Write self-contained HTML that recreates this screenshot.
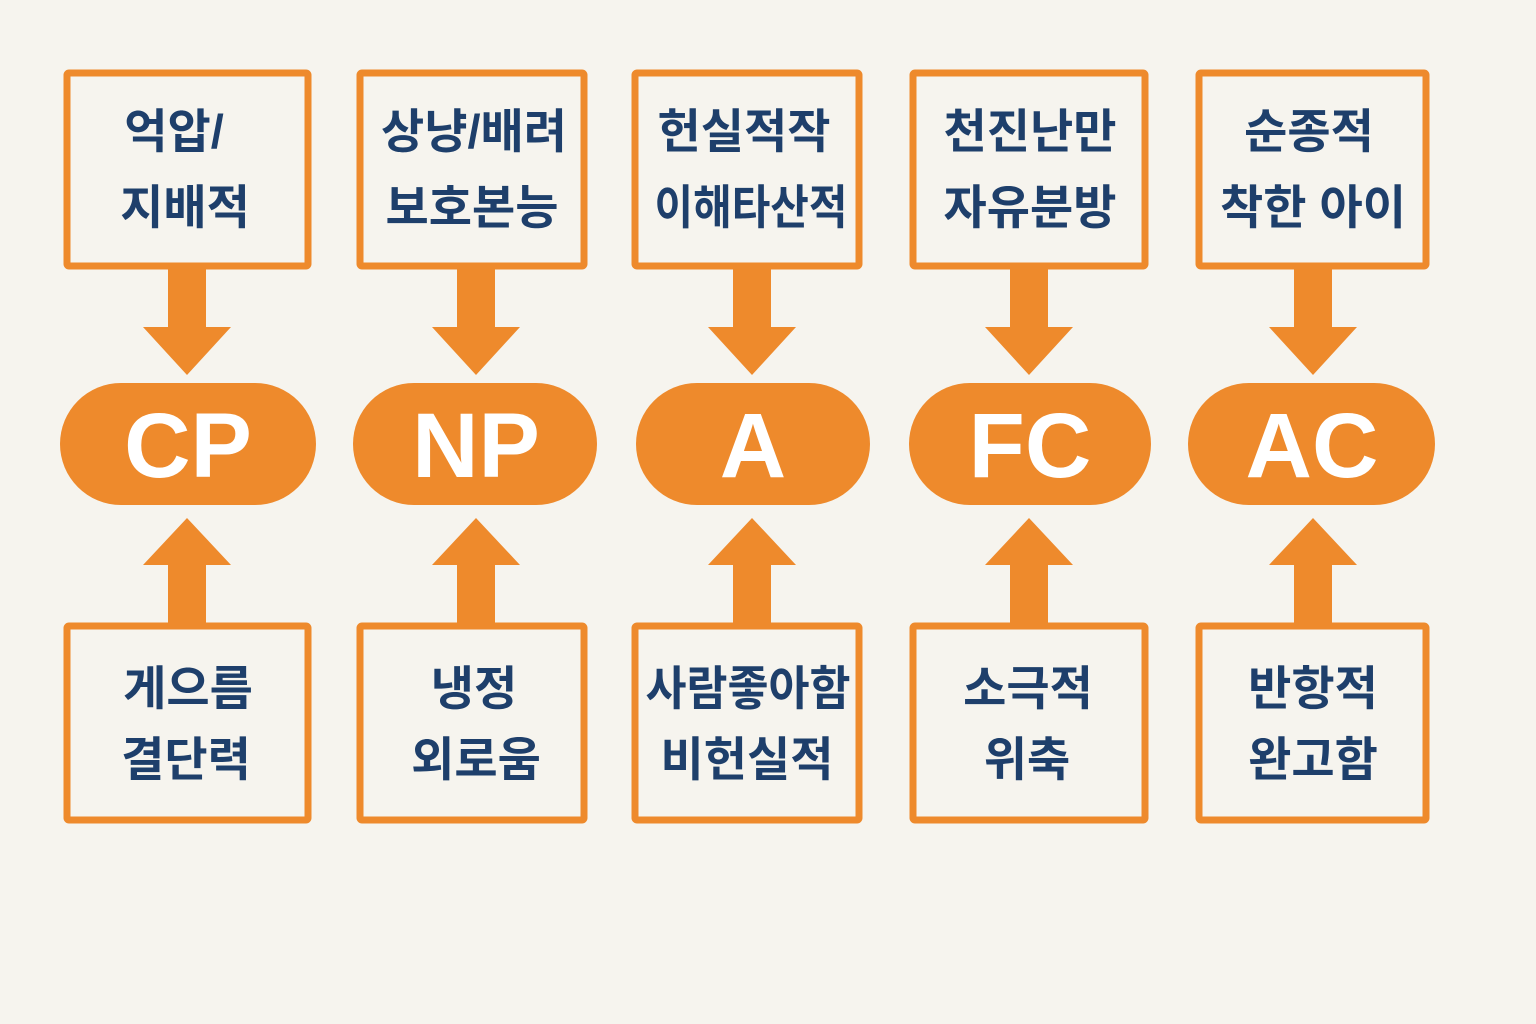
<!DOCTYPE html>
<html><head><meta charset="utf-8"><style>
html,body{margin:0;padding:0;background:#F6F4EE;}
svg{display:block;}
.k{font-family:"Liberation Sans","Noto Sans CJK KR","NanumGothic",sans-serif;font-weight:700;font-size:47px;fill:#1E3F6B;text-anchor:middle;}
.p{font-family:"Liberation Sans",sans-serif;font-weight:700;font-size:92px;fill:#FFFFFF;text-anchor:middle;}
</style></head><body>
<svg width="1536" height="1024" viewBox="0 0 1536 1024" xmlns="http://www.w3.org/2000/svg">
<rect width="1536" height="1024" fill="#F6F4EE"/>
<g fill="#FFFFFF" fill-opacity="0" stroke="#EE8A2C" stroke-width="7" stroke-linejoin="round">
<rect x="67" y="73" width="241" height="193" rx="2"/>
<rect x="360" y="73" width="224" height="193" rx="2"/>
<rect x="635" y="73" width="224" height="193" rx="2"/>
<rect x="913" y="73" width="232" height="193" rx="2"/>
<rect x="1199" y="73" width="227" height="193" rx="2"/>
<rect x="67" y="626" width="241" height="194" rx="2"/>
<rect x="360" y="626" width="224" height="194" rx="2"/>
<rect x="635" y="626" width="224" height="194" rx="2"/>
<rect x="913" y="626" width="232" height="194" rx="2"/>
<rect x="1199" y="626" width="227" height="194" rx="2"/>
</g>
<g fill="#EE8A2C">
<rect x="60" y="383" width="256" height="122" rx="61"/>
<rect x="353" y="383" width="244" height="122" rx="61"/>
<rect x="636" y="383" width="234" height="122" rx="61"/>
<rect x="909" y="383" width="242" height="122" rx="61"/>
<rect x="1188" y="383" width="247" height="122" rx="61"/>
<polygon points="168,268 206,268 206,327 231,327 187,375 143,327 168,327"/>
<polygon points="457,268 495,268 495,327 520,327 476,375 432,327 457,327"/>
<polygon points="733,268 771,268 771,327 796,327 752,375 708,327 733,327"/>
<polygon points="1010,268 1048,268 1048,327 1073,327 1029,375 985,327 1010,327"/>
<polygon points="1294,268 1332,268 1332,327 1357,327 1313,375 1269,327 1294,327"/>
<polygon points="168,624 206,624 206,565 231,565 187,518 143,565 168,565"/>
<polygon points="457,624 495,624 495,565 520,565 476,518 432,565 457,565"/>
<polygon points="733,624 771,624 771,565 796,565 752,518 708,565 733,565"/>
<polygon points="1010,624 1048,624 1048,565 1073,565 1029,518 985,565 1010,565"/>
<polygon points="1294,624 1332,624 1332,565 1357,565 1313,518 1269,565 1294,565"/>
</g>
<text class="p" x="188" y="477">CP</text>
<text class="p" x="476" y="477">NP</text>
<text class="p" x="753" y="477">A</text>
<text class="p" x="1030" y="477">FC</text>
<text class="p" x="1312" y="477">AC</text>

<text class="k" x="174" y="148">억압/</text>
<text class="k" x="185" y="224">지배적</text>
<text class="k" x="474" y="148">상냥/배려</text>
<text class="k" x="472" y="224">보호본능</text>
<text class="k" x="744" y="148">헌실적작</text>
<text class="k" x="751" y="224" textLength="193" lengthAdjust="spacingAndGlyphs">이해타산적</text>
<text class="k" x="1030" y="148">천진난만</text>
<text class="k" x="1030" y="224">자유분방</text>
<text class="k" x="1309" y="148">순종적</text>
<text class="k" x="1313" y="224">착한 아이</text>

<text class="k" x="188" y="705">게으름</text>
<text class="k" x="186" y="776">결단력</text>
<text class="k" x="474" y="705">냉정</text>
<text class="k" x="476" y="776">외로움</text>
<text class="k" x="748" y="705" textLength="205" lengthAdjust="spacingAndGlyphs">사람좋아함</text>
<text class="k" x="747" y="776">비헌실적</text>
<text class="k" x="1028" y="705">소극적</text>
<text class="k" x="1027" y="776">위축</text>
<text class="k" x="1313" y="705">반항적</text>
<text class="k" x="1313" y="776">완고함</text>
</svg>
</body></html>
